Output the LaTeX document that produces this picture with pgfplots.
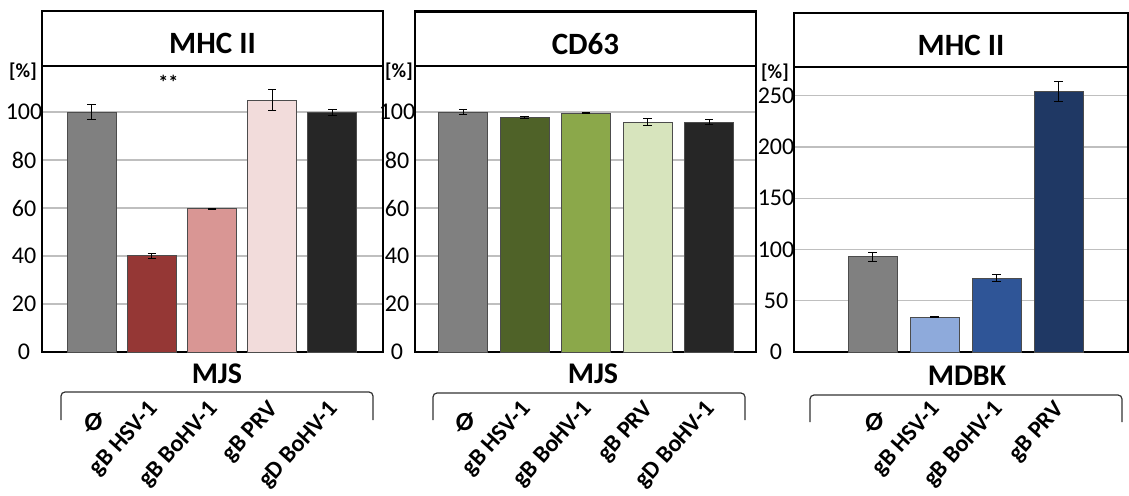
\documentclass[border=0pt]{standalone}
\usepackage{graphicx}
\usepackage{pgfplots}
\pgfplotsset{compat=1.18}
\usepackage{fontspec}
\setmainfont{Carlito}
\definecolor{cgray}{HTML}{808080}
\definecolor{cdred}{HTML}{953735}
\definecolor{cpink}{HTML}{D99694}
\definecolor{clpink}{HTML}{F2DCDB}
\definecolor{cblack}{HTML}{262626}
\definecolor{cdgreen}{HTML}{4F6228}
\definecolor{cgreen}{HTML}{8BA84A}
\definecolor{clgreen}{HTML}{D7E4BD}
\definecolor{clblue}{HTML}{8EAADB}
\definecolor{cmblue}{HTML}{2F5597}
\definecolor{cdblue}{HTML}{1F3864}
\pgfplotsset{
  panel/.style={
    scale only axis, anchor=south west, ymin=0,
    axis line style={line width=1.3pt},
    ymajorgrids, grid style={line width=0.7pt, color=black!25},
    xtick style={draw=none}, ytick style={draw=none},
    clip=false,
    /pgf/number format/assume math mode=true,
    yticklabel style={font=\fontsize{12}{14}\selectfont, anchor=center, xshift=-9pt},
    xticklabel style={font=\bfseries\fontsize{12}{14}\selectfont, anchor=north east, inner sep=0pt, xshift=5pt, yshift=-23.5pt},
  },
  mybar/.style={ybar, bar width=24.5pt, bar shift=0pt, draw=black!70, line width=0.5pt, fill=#1,
    error bars/y dir=both, error bars/y explicit,
    error bars/error bar style={black, line width=0.5pt},
    error bars/error mark options={rotate=90, mark size=2.1pt, line width=0.5pt, black}},
}
\newcommand{\Oslash}{\rule{0pt}{15.5pt}{\fontsize{13}{15}\selectfont Ø}\kern-0.5pt\relax}
\newcommand{\rl}[1]{\rotatebox{48}{#1}}
\begin{document}
\begin{tikzpicture}
\useasboundingbox (0,0) rectangle (564.5pt,247.5pt);
% ---------- Panel 1: MHC II, MJS ----------
\begin{axis}[panel, at={(21pt,71.5pt)}, width=170.5pt, height=143pt,
  xmin=-0.825, xmax=4.84, ymax=119.17, ytick={0,20,...,100},
  xtick={0,...,4},
  xticklabels={\Oslash, \rl{gB HSV-1}, \rl{gB BoHV-1}, \rl{gB PRV}, \rl{gD BoHV-1}}]
\addplot[mybar=cgray]   coordinates {(0,100)  +- (0,3.3)};
\addplot[mybar=cdred]   coordinates {(1,40.1) +- (0,1.0)};
\addplot[mybar=cpink]   coordinates {(2,59.6) +- (0,0.3)};
\addplot[mybar=clpink]  coordinates {(3,105)  +- (0,4.4)};
\addplot[mybar=cblack]  coordinates {(4,99.9) +- (0,1.2)};
\draw[line width=1.3pt] (rel axis cs:0,1) rectangle (rel axis cs:1,1.1923);
\node[font=\bfseries\fontsize{15.5}{18}\selectfont] at (rel axis cs:0.5,1.0787) {MHC II};
\node[font=\bfseries\fontsize{10}{12}\selectfont, xshift=-9.5pt] at (rel axis cs:0,0.979) {[\%]};
\node[font=\bfseries\fontsize{10}{12}\selectfont] at (axis cs:1.275,112.5) {**};
\node[font=\bfseries\fontsize{15}{18}\selectfont] at (rel axis cs:0.513,-0.077) {MJS};
\end{axis}
% ---------- Panel 2: CD63, MJS ----------
\begin{axis}[panel, at={(207.5pt,71.5pt)}, width=170.5pt, height=143pt,
  xmin=-0.78, xmax=4.76, ymax=119.17, ytick={0,20,...,100},
  xtick={0,...,4},
  xticklabels={\Oslash, \rl{gB HSV-1}, \rl{gB BoHV-1}, \rl{gB PRV}, \rl{gD BoHV-1}}]
\addplot[mybar=cgray]    coordinates {(0,100)  +- (0,1.2)};
\addplot[mybar=cdgreen]  coordinates {(1,97.6) +- (0,0.5)};
\addplot[mybar=cgreen]   coordinates {(2,99.5) +- (0,0.3)};
\addplot[mybar=clgreen]  coordinates {(3,95.8) +- (0,1.5)};
\addplot[mybar=cblack]   coordinates {(4,95.7) +- (0,1.0)};
\draw[line width=1.3pt] (rel axis cs:0,1) rectangle (rel axis cs:1,1.19);
\node[font=\bfseries\fontsize{15.5}{18}\selectfont] at (rel axis cs:0.5,1.077) {CD63};
\node[font=\bfseries\fontsize{10}{12}\selectfont, xshift=-8pt] at (rel axis cs:0,0.979) {[\%]};
\node[font=\bfseries\fontsize{15}{18}\selectfont] at (rel axis cs:0.522,-0.077) {MJS};
\end{axis}
% ---------- Panel 3: MHC II, MDBK ----------
\begin{axis}[panel, at={(397pt,71.5pt)}, width=167pt, height=142.5pt,
  xmin=-1.266, xmax=4.12, ymax=278, ytick={0,50,...,250},
  xtick={0,...,3},
  xticklabels={\Oslash, \rl{gB HSV-1}, \rl{gB BoHV-1}, \rl{gB PRV}}]
\addplot[mybar=cgray]   coordinates {(0,93)   +- (0,4.3)};
\addplot[mybar=clblue]  coordinates {(1,33.8) +- (0,0.5)};
\addplot[mybar=cmblue]  coordinates {(2,71.9) +- (0,3.5)};
\addplot[mybar=cdblue]  coordinates {(3,254)  +- (0,9.6)};
\draw[line width=1.3pt] (rel axis cs:0,1) rectangle (rel axis cs:1,1.19);
\node[font=\bfseries\fontsize{15.5}{18}\selectfont] at (rel axis cs:0.5,1.077) {MHC II};
\node[font=\bfseries\fontsize{10}{12}\selectfont, xshift=-9.5pt] at (rel axis cs:0,0.979) {[\%]};
\node[font=\bfseries\fontsize{15}{18}\selectfont] at (rel axis cs:0.518,-0.084) {MDBK};
\end{axis}
% ---------- brackets ----------
\draw[line width=0.6pt, black!80, rounded corners=2pt] (30.5pt,37.5pt) -- (30.5pt,51.5pt) -- (186.5pt,51.5pt) -- (186.5pt,37.5pt);
\draw[line width=0.6pt, black!80, rounded corners=2pt] (216.5pt,37.5pt) -- (216.5pt,51pt) -- (372.5pt,51pt) -- (372.5pt,37.5pt);
\draw[line width=0.6pt, black!80, rounded corners=2pt] (405pt,36.5pt) -- (405pt,50pt) -- (561pt,50pt) -- (561pt,36.5pt);
\end{tikzpicture}
\end{document}
